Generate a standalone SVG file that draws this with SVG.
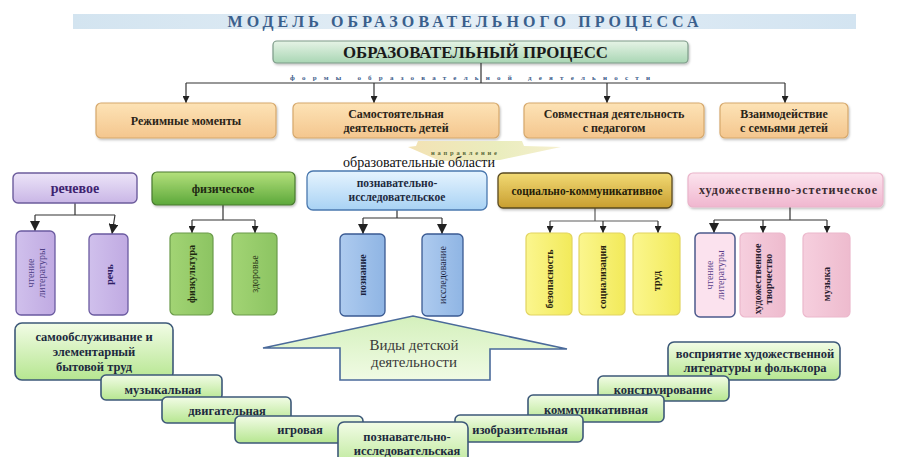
<svg xmlns="http://www.w3.org/2000/svg" width="903" height="457" viewBox="0 0 903 457" font-family="'Liberation Serif', 'DejaVu Serif', serif">
<defs>
<linearGradient id="gTitle" x1="0" y1="0" x2="1" y2="0"><stop offset="0" stop-color="#d3e4f0"/><stop offset="0.5" stop-color="#e4eef6"/><stop offset="1" stop-color="#d3e4f1"/></linearGradient>
<linearGradient id="gMain" x1="0" y1="0" x2="0" y2="1"><stop offset="0" stop-color="#e6f3e6"/><stop offset="1" stop-color="#a9d6b4"/></linearGradient>
<linearGradient id="gOr" x1="0" y1="0" x2="0" y2="1"><stop offset="0" stop-color="#fde3b6"/><stop offset="1" stop-color="#f4c68e"/></linearGradient>
<linearGradient id="gChev" x1="0" y1="0" x2="1" y2="0"><stop offset="0" stop-color="#f3e2b4"/><stop offset="0.6" stop-color="#eaedbe"/><stop offset="1" stop-color="#f6efcf"/></linearGradient>
<linearGradient id="gLav" x1="0" y1="0" x2="0" y2="1"><stop offset="0" stop-color="#ece4f8"/><stop offset="1" stop-color="#c9b6e6"/></linearGradient>
<linearGradient id="gGr" x1="0" y1="0" x2="0" y2="1"><stop offset="0" stop-color="#b4e07c"/><stop offset="1" stop-color="#5ca83a"/></linearGradient>
<linearGradient id="gBl" x1="0" y1="0" x2="0" y2="1"><stop offset="0" stop-color="#e6f4fe"/><stop offset="1" stop-color="#a8d2f4"/></linearGradient>
<linearGradient id="gGo" x1="0" y1="0" x2="0" y2="1"><stop offset="0" stop-color="#f2da74"/><stop offset="1" stop-color="#c89e30"/></linearGradient>
<linearGradient id="gPk" x1="0" y1="0" x2="0" y2="1"><stop offset="0" stop-color="#fce4ee"/><stop offset="1" stop-color="#f0b6cf"/></linearGradient>
<linearGradient id="sLav" x1="0" y1="0" x2="1" y2="0"><stop offset="0" stop-color="#d0c0ec"/><stop offset="1" stop-color="#c0aae2"/></linearGradient>
<linearGradient id="sGr" x1="0" y1="0" x2="1" y2="0"><stop offset="0" stop-color="#a2d474"/><stop offset="1" stop-color="#8cc462"/></linearGradient>
<linearGradient id="sBl" x1="0" y1="0" x2="1" y2="0"><stop offset="0" stop-color="#aecbef"/><stop offset="1" stop-color="#8fb5e4"/></linearGradient>
<linearGradient id="sYe" x1="0" y1="0" x2="1" y2="0"><stop offset="0" stop-color="#fbf68e"/><stop offset="1" stop-color="#f2ea5a"/></linearGradient>
<linearGradient id="sPk" x1="0" y1="0" x2="1" y2="0"><stop offset="0" stop-color="#f6cfde"/><stop offset="1" stop-color="#eebbce"/></linearGradient>
<linearGradient id="gLg" x1="0" y1="0" x2="0" y2="1"><stop offset="0" stop-color="#f2fce6"/><stop offset="1" stop-color="#b6e690"/></linearGradient>
<linearGradient id="gArr" x1="0" y1="0" x2="0" y2="1"><stop offset="0" stop-color="#d4f0bc"/><stop offset="1" stop-color="#f0fbe4"/></linearGradient>
<filter id="sh" x="-10%" y="-20%" width="120%" height="150%"><feDropShadow dx="1" dy="1.5" stdDeviation="1.2" flood-color="#000" flood-opacity="0.25"/></filter>
<marker id="ar" viewBox="0 0 10 10" refX="10" refY="5" markerWidth="7" markerHeight="7" markerUnits="userSpaceOnUse" orient="auto"><path d="M0 0 L10 5 L0 10 Z" fill="#222"/></marker>
<marker id="arB" viewBox="0 0 10 10" refX="10" refY="5" markerWidth="10" markerHeight="10" markerUnits="userSpaceOnUse" orient="auto"><path d="M0 0 L10 5 L0 10 Z" fill="#222"/></marker>
</defs>
<style>
text{font-family:'Liberation Serif','DejaVu Serif',serif;}
.b{font-weight:bold;}
.c{text-anchor:middle;}
.or{fill:url(#gOr);stroke:#d6a86c;stroke-width:1.2;filter:url(#sh);}
.ot{font-size:12px;font-weight:bold;fill:#2a2418;text-anchor:middle;}
.lg{fill:url(#gLg);stroke:#3c5878;stroke-width:1.6;}
.lt{font-size:12.5px;font-weight:bold;fill:#1d2a3e;text-anchor:middle;}
.vt{font-size:10px;text-anchor:middle;}
.con{fill:none;stroke:#333;stroke-width:1.2;}
</style>

<g id="title">
<rect x="73" y="14" width="783" height="15" fill="url(#gTitle)"/>
<text x="463" y="27" class="b c" font-size="16" fill="#3a5f8c" textLength="471" lengthAdjust="spacing">МОДЕЛЬ ОБРАЗОВАТЕЛЬНОГО ПРОЦЕССА</text>
</g>

<g id="main">
<rect x="273" y="41" width="415" height="22" rx="4" fill="url(#gMain)" stroke="#7c9a88" stroke-width="1.2" filter="url(#sh)"/>
<text x="475.5" y="58" class="b c" font-size="16" fill="#1a1a1a" textLength="265" lengthAdjust="spacingAndGlyphs">ОБРАЗОВАТЕЛЬНЫЙ ПРОЦЕСС</text>
</g>

<g id="forms-label">
<text x="470" y="79.5" class="b c" font-size="7" fill="#3d5c8a" textLength="360" lengthAdjust="spacing">формы образовательной деятельности</text>
</g>

<g id="connectors">
<path class="con" d="M481 63 V83 M186 83 H785"/>
<path class="con" d="M186 83 V103" marker-end="url(#ar)"/>
<path class="con" d="M374 83 V103" marker-end="url(#ar)"/>
<path class="con" d="M607 83 V103" marker-end="url(#ar)"/>
<path class="con" d="M785 83 V103" marker-end="url(#ar)"/>
<path class="con" d="M75 203 V215 M35 215 H115"/>
<path class="con" d="M35 215 V231" marker-end="url(#arB)"/>
<path class="con" d="M115 215 L112 234" marker-end="url(#arB)"/>
<path class="con" d="M223 205 V220 M192 220 H255"/>
<path class="con" d="M192 220 V233" marker-end="url(#ar)"/>
<path class="con" d="M255 220 V233" marker-end="url(#ar)"/>
<path class="con" d="M397 210 V218 M363 218 H442"/>
<path class="con" d="M363 218 V234" marker-end="url(#arB)"/>
<path class="con" d="M442 218 V234" marker-end="url(#arB)"/>
<path class="con" d="M595 208 V221 M550 221 H658" stroke-opacity="0.8"/>
<path class="con" d="M550 221 V233" marker-end="url(#ar)"/>
<path class="con" d="M603 221 V233" marker-end="url(#ar)"/>
<path class="con" d="M658 221 V233" marker-end="url(#ar)"/>
<path class="con" d="M790 207 V220 M714 220 H827"/>
<path class="con" d="M714 220 V233" marker-end="url(#arB)"/>
<path class="con" d="M763 220 V233" marker-end="url(#ar)"/>
<path class="con" d="M827 220 V233" marker-end="url(#ar)"/>
</g>

<g id="form-1"><rect class="or" x="96" y="103" width="180" height="35" rx="5"/><text class="ot" x="186" y="125">Режимные моменты</text></g>
<g id="form-2"><rect class="or" x="293" y="103" width="206" height="35" rx="5"/><text class="ot" x="396" y="117.5">Самостоятельная</text><text class="ot" x="396" y="132">деятельность детей</text></g>
<g id="form-3"><rect class="or" x="524" y="103" width="180" height="35" rx="5"/><text class="ot" x="614" y="117.5">Совместная деятельность</text><text class="ot" x="614" y="132">с педагогом</text></g>
<g id="form-4"><rect class="or" x="720" y="103" width="128" height="35" rx="5"/><text class="ot" x="784" y="117.5">Взаимодействие</text><text class="ot" x="784" y="132">с семьями детей</text></g>

<g id="direction">
<polygon points="418,141 522,141 524,146 561,147 500,160 440,161 408,147 416,146" fill="url(#gChev)"/>
<text x="464" y="155" class="b c" font-size="6.5" fill="#5a6a3a" textLength="66" lengthAdjust="spacing">направление</text>
<text x="419" y="167" class="c" font-size="14" fill="#111" textLength="152" lengthAdjust="spacingAndGlyphs">образовательные области</text>
</g>

<g id="area-speech"><rect x="13" y="173" width="124" height="30" rx="5" fill="url(#gLav)" stroke="#6c5c9c" stroke-width="1.4"/><text x="75" y="193" class="b c" font-size="14" fill="#3e2370">речевое</text></g>
<g id="area-physical"><rect x="152" y="172" width="143" height="33" rx="5" fill="url(#gGr)" stroke="#4a7a30" stroke-width="1.2" filter="url(#sh)"/><text x="223" y="193" class="b c" font-size="12" fill="#1e2a12">физическое</text></g>
<g id="area-cognitive"><rect x="307" y="171" width="180" height="39" rx="6" fill="url(#gBl)" stroke="#4a78ae" stroke-width="1.3"/><text x="397" y="186.5" class="b c" font-size="11.5" fill="#1e2a40">познавательно-</text><text x="397" y="201" class="b c" font-size="11.5" fill="#1e2a40">исследовательское</text></g>
<g id="area-social"><rect x="498" y="173" width="174" height="35" rx="5" fill="url(#gGo)" stroke="#5a4a20" stroke-width="1.3" filter="url(#sh)"/><text x="587" y="195" class="b c" font-size="12" fill="#241c08" textLength="151" lengthAdjust="spacingAndGlyphs">социально-коммуникативное</text></g>
<g id="area-art"><rect x="688" y="173" width="195" height="34" rx="5" fill="url(#gPk)" stroke="#eab4ca" stroke-width="1.2" filter="url(#sh)"/><text x="788" y="194" class="b c" font-size="12" fill="#3a2a30" textLength="178" lengthAdjust="spacing">художественно-эстетическое</text></g>

<g id="sub-reading1"><rect x="16" y="231" width="39" height="84" rx="5" fill="url(#sLav)" stroke="#6a5aa0" stroke-width="1.3"/><text class="vt" fill="#4e3e86" transform="translate(35.5 273) rotate(-90)"><tspan x="0" y="-2">чтение</tspan><tspan x="0" y="9">литературы</tspan></text></g>
<g id="sub-speech"><rect x="89" y="234" width="39" height="81" rx="5" fill="url(#sLav)" stroke="#6a5aa0" stroke-width="1.3"/><text class="vt b" font-size="12" fill="#2e1e66" transform="translate(108.5 274.5) rotate(-90)" y="4">речь</text></g>
<g id="sub-pe"><rect x="170" y="233" width="43" height="82" rx="5" fill="url(#sGr)" stroke="#6a9a4a" stroke-width="1.2"/><text class="vt b" font-size="11" fill="#1e2a10" transform="translate(191.5 274) rotate(-90)" y="3.5">физкультура</text></g>
<g id="sub-health"><rect x="232" y="233" width="45" height="82" rx="5" fill="url(#sGr)" stroke="#6a9a4a" stroke-width="1.2"/><text class="vt" fill="#1e2a10" transform="translate(254.5 274) rotate(-90)" y="3.5">здоровье</text></g>
<g id="sub-cognition"><rect x="340" y="234" width="45" height="82" rx="5" fill="url(#sBl)" stroke="#3a5a92" stroke-width="1.3"/><text class="vt b" font-size="11" fill="#1a2440" transform="translate(362.5 275) rotate(-90)" y="3.5">познание</text></g>
<g id="sub-research"><rect x="422" y="234" width="41" height="82" rx="5" fill="url(#sBl)" stroke="#3a5a92" stroke-width="1.3"/><text class="vt" fill="#1a2440" transform="translate(442.5 275) rotate(-90)" y="3.5">исследование</text></g>
<g id="sub-safety"><rect x="526" y="233" width="46" height="82" rx="5" fill="url(#sYe)" stroke="#e2d460" stroke-width="1.2"/><text class="vt b" font-size="10" fill="#2a2410" transform="translate(549 279) rotate(-90)" y="3.5">безопасность</text></g>
<g id="sub-socialization"><rect x="579" y="233" width="46" height="82" rx="5" fill="url(#sYe)" stroke="#e2d460" stroke-width="1.2"/><text class="vt b" font-size="10" fill="#2a2410" transform="translate(602 277) rotate(-90)" y="3.5">социализация</text></g>
<g id="sub-labour"><rect x="633" y="233" width="47" height="82" rx="5" fill="url(#sYe)" stroke="#e2d460" stroke-width="1.2"/><text class="vt b" font-size="11" fill="#2a2410" transform="translate(656.5 281) rotate(-90)" y="3.5">труд</text></g>
<g id="sub-reading2"><rect x="695" y="233" width="40" height="84" rx="5" fill="#fbe2ee" stroke="#4c5a8c" stroke-width="1.5"/><text class="vt" fill="#5a3e8a" transform="translate(715 275) rotate(-90)"><tspan x="0" y="-2">чтение</tspan><tspan x="0" y="9">литературы</tspan></text></g>
<g id="sub-creativity"><rect x="740" y="233" width="45" height="84" rx="5" fill="url(#sPk)" stroke="#ecb8cc" stroke-width="1.2"/><text class="vt b" font-size="10" fill="#2a2030" transform="translate(762.5 279) rotate(-90)"><tspan x="0" y="-2">художественное</tspan><tspan x="0" y="9">творчество</tspan></text></g>
<g id="sub-music"><rect x="803" y="233" width="47" height="84" rx="5" fill="url(#sPk)" stroke="#ecb8cc" stroke-width="1.2"/><text class="vt b" font-size="11" fill="#2a2030" transform="translate(826.5 284) rotate(-90)" y="3.5">музыка</text></g>

<g id="activity-types">
<polygon points="263,348 413,316 567,349 490,349 490,380 340,380 340,348" fill="url(#gArr)" stroke="#4a6a9a" stroke-width="1.6" stroke-linejoin="miter"/>
<text x="414" y="350" class="c" font-size="15" fill="#3a3a3a">Виды детской</text>
<text x="414" y="367" class="c" font-size="15" fill="#3a3a3a">деятельности</text>
</g>

<g id="act-perception"><rect class="lg" x="668" y="342" width="172" height="38" rx="6"/><text class="lt" x="755" y="358" font-size="12">восприятие художественной</text><text class="lt" x="755" y="372" font-size="12">литературы и фольклора</text></g>
<g id="act-construction"><rect class="lg" x="598" y="376" width="131" height="25" rx="5"/><text class="lt" x="663" y="394">конструирование</text></g>
<g id="act-communicative"><rect class="lg" x="528" y="395" width="136" height="27" rx="5"/><text class="lt" x="596" y="413.5">коммуникативная</text></g>
<g id="act-visual"><rect class="lg" x="455" y="415" width="128" height="27" rx="5"/><text class="lt" x="520" y="434">изобразительная</text></g>
<g id="act-selfcare"><rect class="lg" x="15" y="323" width="158" height="57" rx="7"/><text class="lt" x="94" y="341">самообслуживание и</text><text class="lt" x="94" y="356">элементарный</text><text class="lt" x="94" y="371">бытовой труд</text></g>
<g id="act-music"><rect class="lg" x="101" y="375" width="121" height="25" rx="5"/><text class="lt" x="163" y="393.5">музыкальная</text></g>
<g id="act-motor"><rect class="lg" x="162" y="397" width="129" height="26" rx="5"/><text class="lt" x="227" y="415">двигательная</text></g>
<g id="act-play"><rect class="lg" x="235" y="416" width="128" height="27" rx="5"/><text class="lt" x="300" y="434">игровая</text></g>
<g id="act-cognitive"><rect class="lg" x="338" y="422" width="130" height="50" rx="6"/><text class="lt" x="407" y="441" font-size="11.5">познавательно-</text><text class="lt" x="407" y="455" font-size="11.5">исследовательская</text></g>
</svg>
